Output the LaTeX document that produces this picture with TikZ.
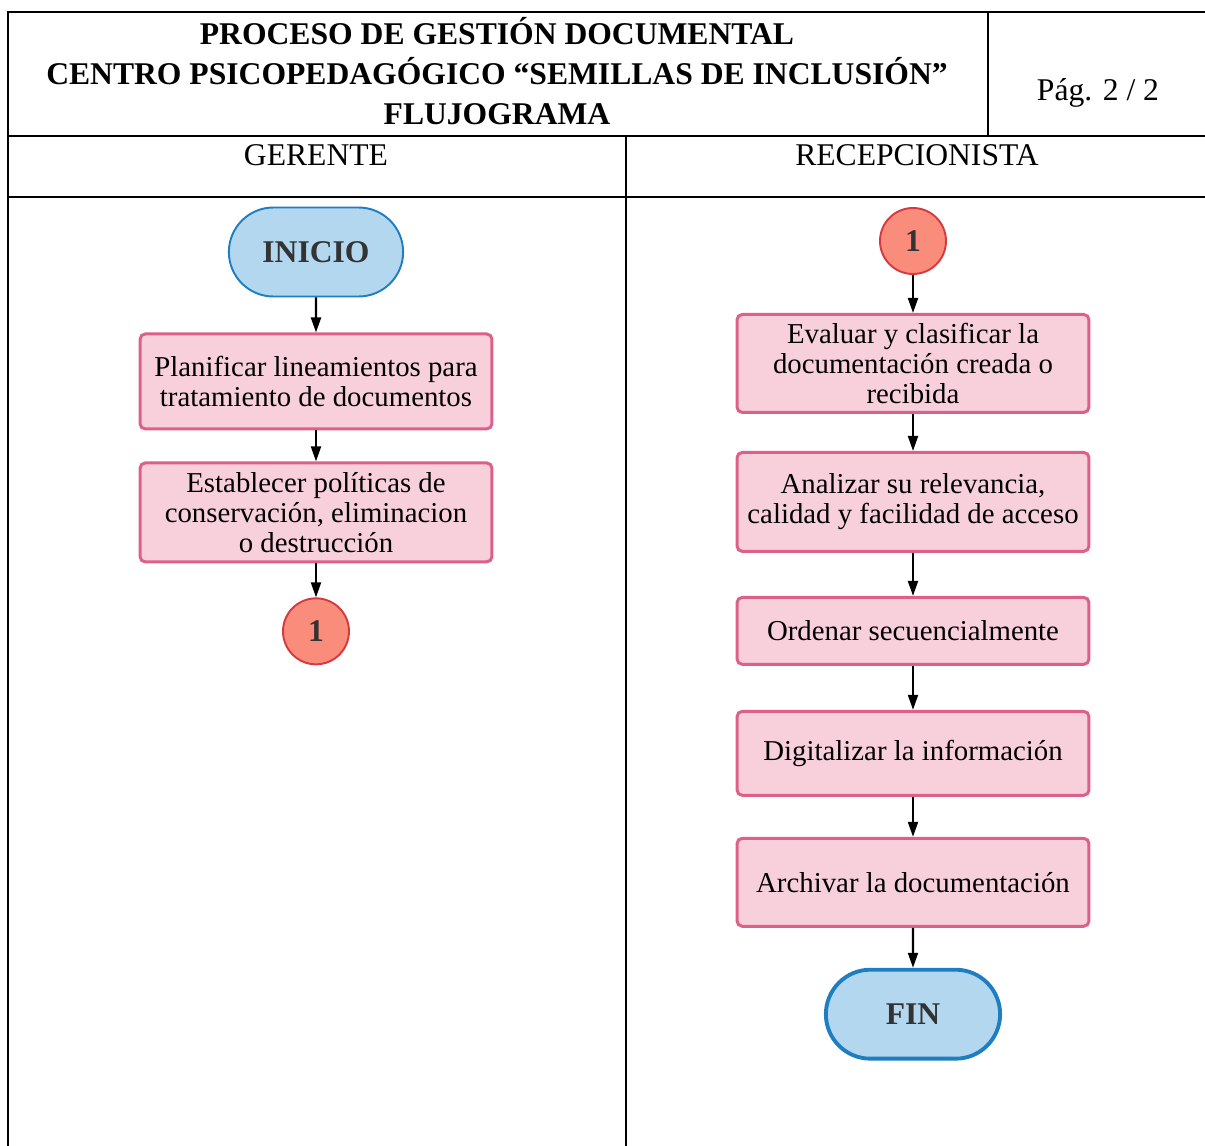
\documentclass[tikz,border=0pt]{standalone}
\usepackage{fontspec}
\setmainfont{Liberation Serif}
\usetikzlibrary{arrows.meta,positioning,shapes.misc}

\definecolor{boxfill}{HTML}{F8D0DC}
\definecolor{boxline}{HTML}{DC6088}
\definecolor{termfill}{HTML}{B3D7EF}
\definecolor{termline}{HTML}{1F7EC1}
\definecolor{linkfill}{HTML}{FA8C7C}
\definecolor{linkline}{HTML}{D63A3F}
\definecolor{labelgray}{HTML}{333333}

\begin{document}
\begin{tikzpicture}[x=0.02cm, y=-0.02cm, node distance=0.76cm,
  every node/.style={align=center, font=\fontsize{16.4}{17.2}\selectfont},
  stepbox/.style={draw=boxline, fill=boxfill, line width=1.7pt, rounded corners=3pt, minimum width=7.04cm, inner sep=2pt},
  term/.style={rounded rectangle, draw=termline, fill=termfill, line width=1.1pt, minimum width=3.72cm, minimum height=1.78cm, text=labelgray, font=\fontsize{18}{20}\selectfont\bfseries},
  link/.style={circle, draw=linkline, fill=linkfill, line width=1.1pt, minimum size=1.32cm, inner sep=0pt, text=labelgray, font=\fontsize{18}{20}\selectfont\bfseries},
  head/.style={font=\fontsize{18}{22.7}\selectfont},
  >={Triangle[width=0.2cm,length=0.3cm]}, flow/.style={->, line width=1.2pt}]
\useasboundingbox (0,0) rectangle (1205,1146);
% table frame
\draw[line width=1.2pt] (8,1146) -- (8,12) -- (1205,12);
\draw[line width=1.2pt] (8,136) -- (1205,136);
\draw[line width=1.2pt] (988,12) -- (988,136);
\draw[line width=1.2pt] (626,136) -- (626,1146);
\draw[line width=0.6pt] (8,197) -- (1205,197);
\draw[line width=1.2pt] (8,197) -- (130,197) (503,197) -- (734,197) (1103,197) -- (1205,197);
\node[head, font=\fontsize{18}{22.7}\selectfont\bfseries] (title) at (497,71) {PROCESO DE GESTIÓN DOCUMENTAL\\CENTRO PSICOPEDAGÓGICO “SEMILLAS DE INCLUSIÓN”\\FLUJOGRAMA};
\node[head] (page) at (1098,93) {Pág. 2 / 2};
\node[head] (lane1) at (316,155) {GERENTE};
\node[head] (lane2) at (917,155) {RECEPCIONISTA};

% gerente
\node[term] (inicio) at (316,252) {INICIO};
\node[stepbox, minimum height=1.9cm] (plan) [below=0.7cm of inicio] {Planificar lineamientos para\\tratamiento de documentos};
\node[stepbox, minimum height=1.98cm] (pol) [below=0.62cm of plan] {Establecer políticas de\\conservación, eliminacion\\o destrucción};
\node[link] (out1) [below=0.68cm of pol] {1};

% recepcionista
\node[link] (in1) at (913,241) {1};
\node[stepbox, minimum height=1.96cm] (eval) [below=of in1] {Evaluar y clasificar la\\documentación creada o\\recibida};
\node[stepbox, minimum height=1.98cm] (anal) [below=0.74cm of eval] {Analizar su relevancia,\\calidad y facilidad de acceso};
\node[stepbox, minimum height=1.34cm] (orden) [below=0.86cm of anal] {Ordenar secuencialmente};
\node[stepbox, minimum height=1.68cm] (digit) [below=0.88cm of orden] {Digitalizar la información};
\node[stepbox, minimum height=1.76cm] (arch) [below=0.8cm of digit] {Archivar la documentación};
\node[term, line width=2.2pt] (fin) [below=0.8cm of arch] {FIN};

\draw[flow] (inicio) -- (plan);
\draw[flow] (plan) -- (pol);
\draw[flow] (pol) -- (out1);
\draw[flow] (in1) -- (eval);
\draw[flow] (eval) -- (anal);
\draw[flow] (anal) -- (orden);
\draw[flow] (orden) -- (digit);
\draw[flow] (digit) -- (arch);
\draw[flow] (arch) -- (fin);
\end{tikzpicture}
\end{document}
